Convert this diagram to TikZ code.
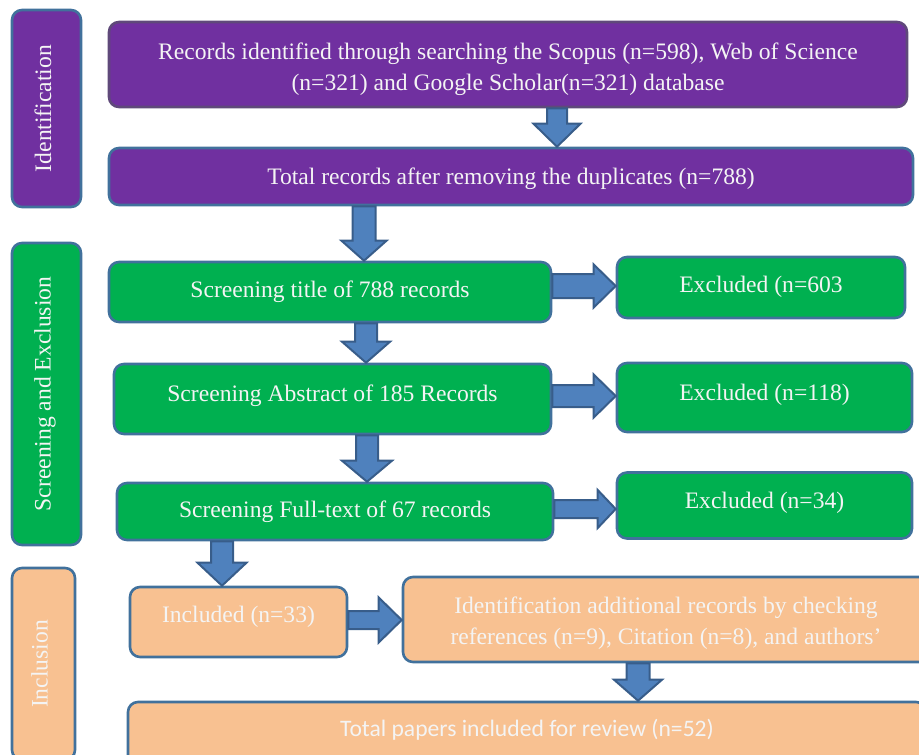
\documentclass[tikz,border=0pt]{standalone}
\usepackage{fontspec}
\setmainfont{Liberation Serif}
\newfontfamily\calibrifont{Carlito}
\usetikzlibrary{calc}
\definecolor{purp}{HTML}{7030A0}
\definecolor{grn}{HTML}{00B050}
\definecolor{peach}{HTML}{F8C191}
\definecolor{bord}{HTML}{41719C}
\definecolor{bordp}{HTML}{5F497A}
\definecolor{arrfill}{HTML}{4F81BD}
\definecolor{arrbord}{HTML}{385D8A}
\definecolor{txtc}{HTML}{F4F4F4}
\tikzset{
 box/.style={draw=bord, line width=2.6pt, rounded corners=10pt, inner sep=0pt, text=txtc,
   font=\fontsize{23.6}{31}\selectfont, align=center},
 pbox/.style={box, fill=purp},
 gbox/.style={box, fill=grn},
 obox/.style={box, fill=peach},
 oneline/.style={text height=16pt, text depth=#1},
 oneline/.default=4pt,
 barrow/.style={fill=arrfill, draw=arrbord, line width=2pt, line join=miter},
}
% #1 x, #2 from anchor, #3 to anchor, #4 shaft half width, #5 head half width, #6 head length
\newcommand\blockdown[6]{%
 \path[barrow] let \p1=(#2), \p2=(#3) in
  (#1pt-#4pt,\y1) -- (#1pt+#4pt,\y1) -- (#1pt+#4pt,\y2+#6pt) -- (#1pt+#5pt,\y2+#6pt)
  -- (#1pt,\y2) -- (#1pt-#5pt,\y2+#6pt) -- (#1pt-#4pt,\y2+#6pt) -- cycle;}
% #1 y (px, downward), #2 from anchor, #3 to anchor, #4 shaft half, #5 head half, #6 head length
\newcommand\blockright[6]{%
 \path[barrow] let \p1=(#2), \p2=(#3) in
  (\x1,-#1pt+#4pt) -- (\x2-#6pt,-#1pt+#4pt) -- (\x2-#6pt,-#1pt+#5pt) -- (\x2,-#1pt)
  -- (\x2-#6pt,-#1pt-#5pt) -- (\x2-#6pt,-#1pt-#4pt) -- (\x1,-#1pt-#4pt) -- cycle;}
\begin{document}
\begin{tikzpicture}[x=1pt,y=-1pt]
\useasboundingbox (0,0) rectangle (919,755);
\clip (0,0) rectangle (919,755);
% side labels
\node[pbox, rotate=90, minimum width=197pt, minimum height=69pt, oneline=7pt] (s1) at (46.5,108.5) {Identification};
\node[gbox, rotate=90, minimum width=302pt, minimum height=69pt, oneline=8pt] (s2) at (46.5,394) {Screening and Exclusion};
\node[obox, rotate=90, minimum width=192pt, minimum height=63pt, oneline=8pt] (s3) at (43.5,664) {Inclusion};
% identification
\node[pbox, draw=bordp, minimum width=798pt, minimum height=85pt] (b1) at (508,64.5)
  {\rule{0pt}{26pt}Records identified through searching the Scopus (n=598), Web of Science\\(n=321) and Google Scholar(n=321) database};
\node[pbox, minimum width=804pt, minimum height=57pt, oneline=1pt] (b2) at (511,176.5)
  {Total records after removing the duplicates (n=788)};
% screening
\node[gbox, minimum width=442pt, minimum height=60pt, oneline=6pt] (g1) at (330,292) {Screening title of 788 records};
\node[gbox, minimum width=288pt, minimum height=61pt, oneline=7pt] (e1) at (761,287.5) {Excluded (n=603};
\node[gbox, minimum width=437pt, minimum height=70pt, oneline=12pt] (g2) at (332.5,399) {Screening Abstract of 185 Records};
\node[gbox, minimum width=295pt, minimum height=69pt, oneline=11pt] (e2) at (764.5,397.5) {Excluded (n=118)};
\node[gbox, minimum width=436pt, minimum height=57pt, oneline=4pt] (g3) at (335,511.5) {Screening Full-text of 67 records};
\node[gbox, minimum width=295pt, minimum height=66pt, oneline=11pt] (e3) at (764.5,505.5) {Excluded (n=34)};
% inclusion
\node[obox, minimum width=217pt, minimum height=70pt, oneline=15pt] (inc) at (238.5,622) {Included (n=33)};
\node[obox, minimum width=526pt, minimum height=85pt] (add) at (666,619.5)
  {\rule{0pt}{24pt}Identification additional records by checking\\references (n=9), Citation (n=8), and authors’};
\node[obox, minimum width=798pt, minimum height=76pt, oneline=24pt, font=\calibrifont\fontsize{23.6}{31}\selectfont] (tot) at (527,740)
  {Total papers included for review (n=52)};
% arrows
\blockdown{557}{b1.south}{b2.north}{10}{23.5}{23}
\blockdown{364}{b2.south}{g1.north}{11.5}{22.5}{20}
\blockdown{366}{g1.south}{g2.north}{11}{24}{21}
\blockdown{367}{g2.south}{g3.north}{11}{25}{21}
\blockdown{222}{g3.south}{inc.north}{11}{24.5}{23}
\blockdown{638}{add.south}{tot.north}{11.5}{24}{21}
\blockright{286}{g1.east}{e1.west}{12}{21.5}{22}
\blockright{396}{g2.east}{e2.west}{11}{21.5}{22}
\blockright{509}{g3.east}{e3.west}{9}{19}{18}
\blockright{620}{inc.east}{add.west}{9}{22.5}{23}
\end{tikzpicture}
\end{document}
